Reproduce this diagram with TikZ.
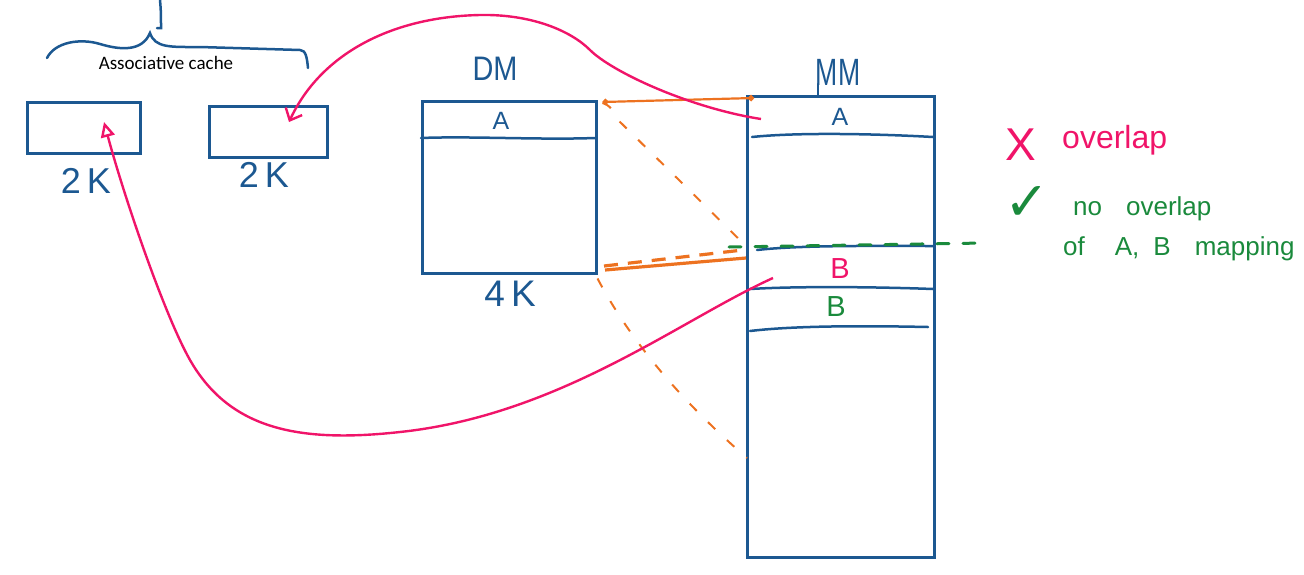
\documentclass[tikz,border=0pt]{standalone}
\usepackage{fontspec}
\setmainfont{Liberation Sans}
\newfontfamily\notefont{Carlito}
\newfontfamily\symfont{DejaVu Sans}
\usetikzlibrary{positioning,arrows.meta,calc}
\definecolor{inkblue}{RGB}{28,88,145}
\definecolor{inkpink}{RGB}{240,20,105}
\definecolor{inkorange}{RGB}{237,114,32}
\definecolor{inkgreen}{RGB}{26,138,60}
\newcommand{\inksize}[1]{\fontsize{#1}{#1}\selectfont}

\begin{document}
\begin{tikzpicture}[x=1pt,y=-1pt,>=stealth,
    box/.style={draw=inkblue,line width=2.5pt,anchor=north west,inner sep=0pt},
    row/.style={draw=inkblue,line width=2.5pt,line cap=round},
    hand/.style={text=inkblue,inner sep=0pt,font=\inksize{#1}},
    pinkarc/.style={draw=inkpink,line width=2.4pt},
    orange/.style={draw=inkorange,line width=2.2pt},
    orangedash/.style={draw=inkorange,line width=2pt,dash pattern=on 10pt off 16pt},
    greendash/.style={draw=inkgreen,line width=3pt,dash pattern=on 12pt off 14pt,line cap=round}
  ]
    \useasboundingbox (0,0) rectangle (1304,574);

    % caches, DM and MM
    \node[box,minimum width=113pt,minimum height=51pt] (cacheA) at (26,101) {};
    \node[box,minimum width=118pt,minimum height=51pt] (cacheB) at (208,105) {};
    \node[box,minimum width=174pt,minimum height=172pt] (dm) at (421,100) {};
    \node[box,minimum width=187pt,minimum height=461pt] (mm) at (746,95) {};

    \node[hand=36] (sizeA) at (86,181) {2\,K};
    \node[hand=36] (sizeB) at (264,175) {2\,K};
    \node[hand=34,xscale=0.85] (dmname) at (495,69) {DM};
    \node[hand=37] (dmsize) at (510,294) {4\,K};
    \node[hand=38,xscale=0.7] (mmname) at (838,72) {MM};
    \node[hand=25] (dmA) at (501,121) {A};
    \node[hand=25] (mmA) at (840,117) {A};
    \node[hand=29,text=inkpink] (mmB) at (840,269) {B};
    \node[hand=29,text=inkgreen] (mmBB) at (836,307) {B};

    % rows
    \draw[row] (421,138) .. controls (470,136) and (540,140) .. (595,138);
    \draw[row] (752,137) .. controls (800,132) and (880,134) .. (933,137);
    \draw[row] (757,250) .. controls (800,245) and (880,246) .. (933,246);
    \draw[row] (750,289) .. controls (800,286) and (880,287) .. (933,289);
    \draw[row] (750,331) .. controls (800,325) and (880,326) .. (928,327);
    \draw[row] (818,95) -- (818,84);

    % brace
    \draw[row] (47,58) .. controls (55,42) and (80,38) .. (100,44)
      .. controls (120,50) and (142,52) .. (150,33)
      .. controls (155,48) and (170,47) .. (200,47) -- (300,50)
      .. controls (306,50) and (307,58) .. (308,68);
    \draw[row] (160,0) .. controls (161,12) .. (161,28) -- (157,28);
    \node[font=\notefont\inksize{19},inner sep=0pt] (assoc) at (166,63) {Associative cache};

    % mappings
    \coordinate (mmtop) at (754,98);
    \coordinate (mmmid) at (748,248);
    \coordinate (mmlow) at (747,458);
    \draw[orange,{Circle[length=6pt]}-{Circle[length=6pt]}] ($(dm.north east)+(5,2)$) -- (mmtop);
    \draw[orangedash] ($(dm.north east)+(5,3)$) .. controls (610,106) .. (616,118) -- (mmmid);
    \draw[orangedash] ($(dm.south east)+(0,4)$) .. controls (630,340) and (680,400) .. (mmlow);
    \draw[orange,line width=3.2pt] (605,270) -- (746,258);
    \draw[orange,line width=3.2pt,dash pattern=on 14pt off 10pt] (604,266) -- (743,250);
    \draw[greendash] (729,247) -- (985,243);

    \coordinate (srcA) at (761,119);
    \coordinate (dstA) at (289,122);
    \coordinate (srcB) at (773,278);
    \coordinate (dstB) at (104,122);
    \draw[pinkarc,-{Straight Barb[length=10pt,width=18pt]}] (srcA)
      .. controls (690,108) and (612,72) .. (590,50)
      .. controls (570,30) and (530,14) .. (480,15)
      .. controls (390,16.8) and (320,55) .. (dstA);
    \draw[pinkarc,-{Triangle[open,length=15pt,width=14pt]}] (srcB)
      .. controls (680,320) and (560,415) .. (400,432)
      .. controls (300,443) and (230,430) .. (190,360)
      .. controls (165,316) and (125,200) .. (dstB);

    % notes
    \node[hand=46,text=inkpink] (cross) at (1021,145) {X};
    \node[hand=32,text=inkpink,anchor=west] (bad) at (1062,140) {overlap};
    \node[font=\symfont\inksize{54},text=inkgreen,inner sep=0pt] (tick) at (1027,203) {✓};
    \node[hand=26,text=inkgreen,anchor=west] (good) at (1073,209) {no\hspace{24pt}overlap};
    \node[hand=26,text=inkgreen,anchor=west] (goodtoo) at (1063,249) {of\hspace{30pt}A,\hspace{14pt}B\hspace{24pt}mapping};
\end{tikzpicture}
\end{document}
